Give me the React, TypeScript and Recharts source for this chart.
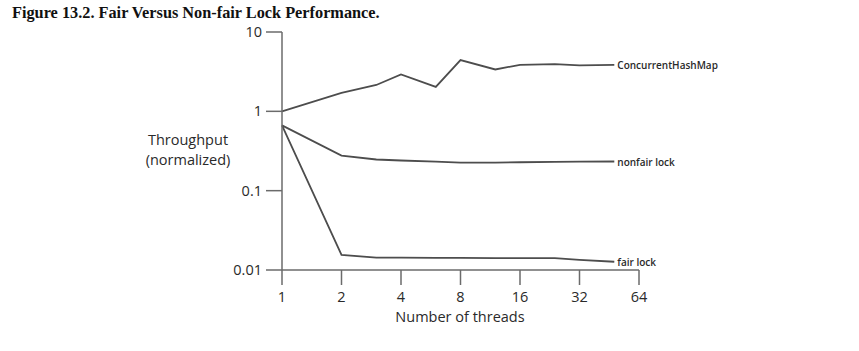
import { LineChart, Line, XAxis, YAxis, Label } from "recharts";

const threads = [1, 2, 3, 4, 6, 8, 12, 16, 24, 32, 48];
const concurrentHashMap = [1, 1.71, 2.15, 2.92, 2.03, 4.42, 3.37, 3.86, 3.94, 3.8, 3.85];
const nonfairLock = [0.665, 0.277, 0.247, 0.24, 0.232, 0.226, 0.226, 0.228, 0.23, 0.232, 0.233];
const fairLock = [0.665, 0.0155, 0.0143, 0.0143, 0.0142, 0.0142, 0.0141, 0.0141, 0.0141, 0.0134, 0.0127];
const xTicks = [1, 2, 4, 8, 16, 32, 64];
const yTicks = [0.01, 0.1, 1, 10];

const rows = threads.map((t, i) => ({
  t,
  chm: concurrentHashMap[i],
  nonfair: nonfairLock[i],
  fair: fairLock[i],
}));

const FONT = "'Open Sans', Lato, sans-serif";
const AXIS = "#6b6b6b";
const LINE = "#4d4d4d";
const TEXT = "#2a2a2a";
const W = 500;
const last = threads.length - 1;

const endLabel = (name: string) => (props: any) => {
  if (props.index !== last) return null;
  return (
    <text x={props.x + 3} y={props.y} dy={4} fontSize={10} fontWeight={600} fill={TEXT} fontFamily={FONT}>
      {name}
    </text>
  );
};

export default function App() {
  return (
    <div style={{ position: "absolute", left: 0, top: 0, width: 859, height: 351, background: "#fff" }}>
      <div
        style={{
          position: "absolute",
          left: 12,
          top: 3,
          fontFamily: "'Liberation Serif', serif",
          fontWeight: "bold",
          fontSize: 16.3,
          color: "#111",
          whiteSpace: "nowrap",
        }}
      >
        Figure 13.2. Fair Versus Non-fair Lock Performance.
      </div>
      <LineChart
        width={859}
        height={351}
        data={rows}
        margin={{ left: 222, right: 220, top: 32, bottom: 51 }}
        style={{ position: "absolute", left: 0, top: 0 }}
      >
        <XAxis
          dataKey="t"
          type="number"
          scale="log"
          domain={[1, 64]}
          ticks={xTicks}
          height={30}
          tickSize={15}
          tickMargin={7}
          stroke={AXIS}
          strokeWidth={1.5}
          tick={{ fill: TEXT, fontSize: 14.5, fontWeight: W, fontFamily: FONT }}
          interval={0}
        >
          <Label
            content={() => (
              <text x={460} y={322} textAnchor="middle" fontSize={14.5} fontWeight={W} fill={TEXT} fontFamily={FONT}>
                Number of threads
              </text>
            )}
          />
        </XAxis>
        <YAxis
          type="number"
          scale="log"
          domain={[0.01, 10]}
          ticks={yTicks}
          allowDataOverflow
          width={60}
          tickSize={16}
          tickMargin={4}
          stroke={AXIS}
          strokeWidth={1.5}
          tick={{ fill: TEXT, fontSize: 14.5, fontWeight: W, fontFamily: FONT }}
          tickFormatter={(v: number) => String(v)}
          interval={0}
        >
          <Label
            content={() => (
              <text textAnchor="middle" fontSize={14.5} fontWeight={W} fill={TEXT} fontFamily={FONT}>
                <tspan x={188} y={145}>Throughput</tspan>
                <tspan x={188} y={165}>(normalized)</tspan>
              </text>
            )}
          />
        </YAxis>
        <Line
          dataKey="chm"
          stroke={LINE}
          strokeWidth={1.8}
          dot={false}
          isAnimationActive={false}
          label={endLabel("ConcurrentHashMap")}
        />
        <Line
          dataKey="nonfair"
          stroke={LINE}
          strokeWidth={1.8}
          dot={false}
          isAnimationActive={false}
          label={endLabel("nonfair lock")}
        />
        <Line
          dataKey="fair"
          stroke={LINE}
          strokeWidth={1.8}
          dot={false}
          isAnimationActive={false}
          label={endLabel("fair lock")}
        />
      </LineChart>
    </div>
  );
}
